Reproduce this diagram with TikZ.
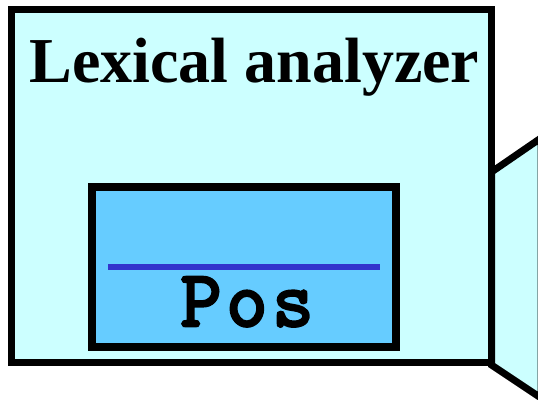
\documentclass[tikz,border=0pt]{standalone}
\usepackage{fontspec}
\setmainfont{Liberation Serif}
\newfontfamily\posfont{Latin Modern Mono}[FakeBold=3.5, LetterSpace=6]
\usetikzlibrary{positioning}
\definecolor{lexfill}{HTML}{CCFFFF}
\definecolor{posfill}{HTML}{66CCFF}
\definecolor{posline}{HTML}{3333CC}

\begin{document}
\begin{tikzpicture}[
    x=1pt, y=-1pt,
    lexbox/.style={
        rectangle, draw, fill=lexfill, line width=7pt,
        minimum width=480pt, minimum height=353pt, inner sep=0pt
    },
    posbox/.style={
        rectangle, draw, fill=posfill, line width=7.5pt,
        minimum width=304pt, minimum height=160pt, inner sep=0pt
    },
    nextbox/.style={draw, fill=lexfill, line width=7pt, line join=miter},
    divider/.style={draw=posline, line width=5.5pt},
]
\useasboundingbox (0,0) rectangle (538,399);

% neighbouring box, seen edge-on
\coordinate (nw) at (491.5,172);
\coordinate (ne) at (541,138);
\coordinate (se) at (541,398);
\coordinate (sw) at (491.5,365);
\draw[nextbox] (nw) -- (ne) -- (se) -- (sw) -- cycle;

\node[lexbox] (lexer) at (251.5,186.25) {};
\node[anchor=base, font=\fontsize{64}{70}\selectfont\bfseries] (title) at (254.5,82) {Lexical analyzer};

\node[posbox] (pos) at (244,267) {};
\coordinate (divl) at (108,267);
\coordinate (divr) at (380,267);
\draw[divider] (divl) -- (divr);
\node[anchor=base, font=\fontsize{80}{84}\selectfont\posfont\bfseries] (posname) at (247,326) {Pos};

\end{tikzpicture}
\end{document}
